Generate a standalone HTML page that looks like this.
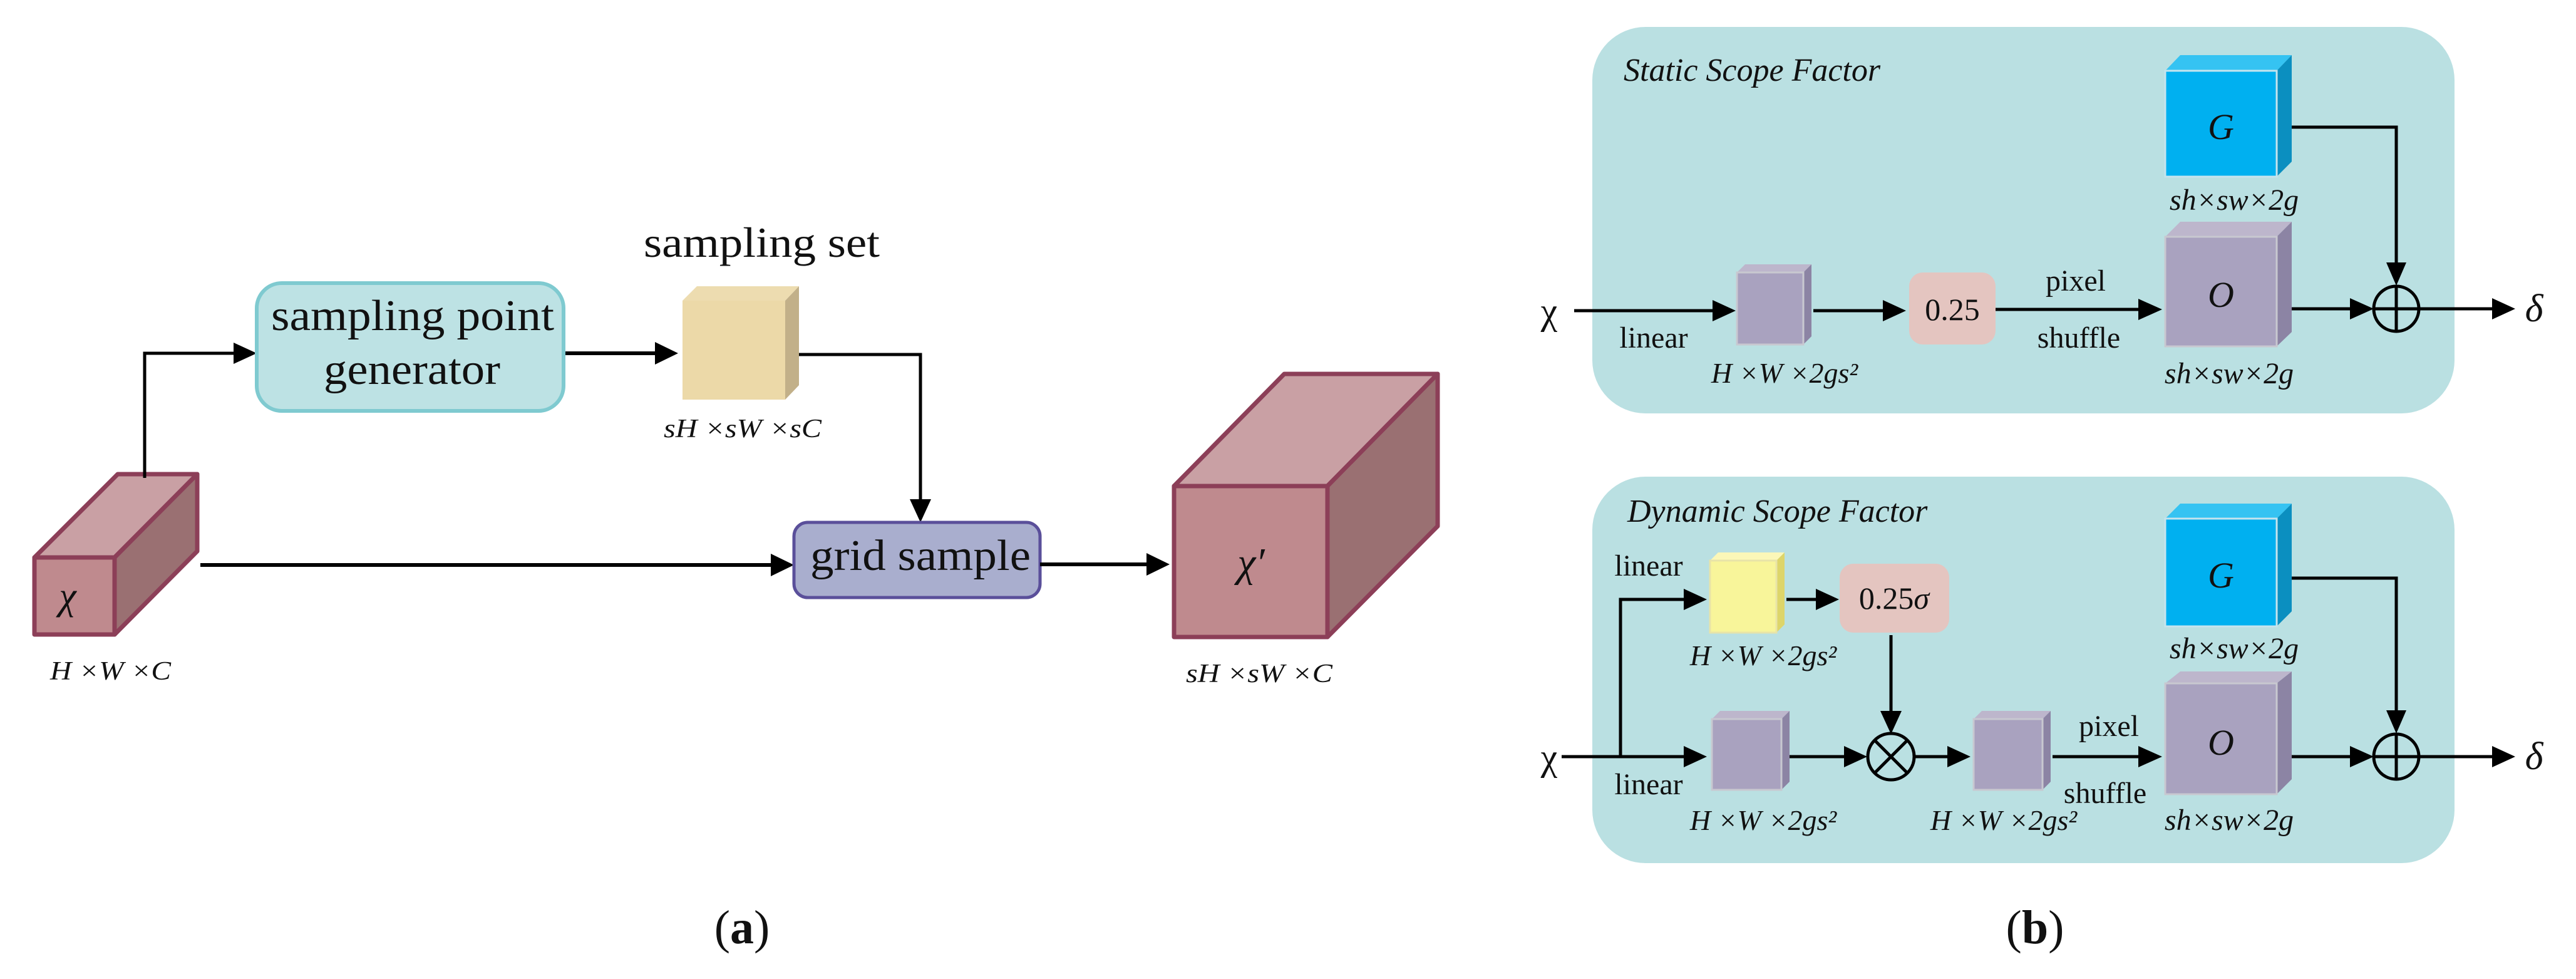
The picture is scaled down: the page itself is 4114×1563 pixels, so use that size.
<!DOCTYPE html>
<html><head><meta charset="utf-8"><style>
html,body{margin:0;padding:0;background:#fff;}
svg{display:block;}
text{font-family:"Liberation Serif",serif;fill:#111;}
.it{font-style:italic;}
</style></head><body>
<svg width="4114" height="1563" viewBox="0 0 4114 1563" xmlns="http://www.w3.org/2000/svg" font-family="Liberation Serif, serif">
<!-- ===== Panel (a) ===== -->
<g stroke="#8c3f58" stroke-width="7" stroke-linejoin="round">
<polygon points="55,890 188,757 315,757 183,890" fill="#c9a0a4"/>
<polygon points="183,890 315,757 315,880 183,1013" fill="#9a7072"/>
<rect x="55" y="890" width="128" height="123" fill="#bf8a8e"/>
</g>
<text x="108" y="972" font-size="62" class="it" text-anchor="middle">χ</text>
<text x="80" y="1085" font-size="42" class="it" textLength="193" lengthAdjust="spacingAndGlyphs">H ×W ×C</text>

<polyline points="231,763 231,564 378,564" fill="none" stroke="#000" stroke-width="5"/>
<polygon points="373,547 410,564 373,581" fill="#000"/>

<rect x="410" y="452" width="490" height="204" rx="40" fill="#bde2e4" stroke="#7fcad0" stroke-width="6"/>
<text x="433" y="527" font-size="70" textLength="452" lengthAdjust="spacingAndGlyphs">sampling point</text>
<text x="517" y="613" font-size="70" textLength="282" lengthAdjust="spacingAndGlyphs">generator</text>

<line x1="903" y1="564" x2="1050" y2="564" stroke="#000" stroke-width="6"/>
<polygon points="1046,546 1083,564 1046,582" fill="#000"/>

<text x="1028" y="410" font-size="68" textLength="377" lengthAdjust="spacingAndGlyphs">sampling set</text>
<polygon points="1090,480 1113,457 1276,457 1254,480" fill="#eddcb0"/>
<polygon points="1254,480 1276,457 1276,615 1254,638" fill="#c2b089"/>
<rect x="1090" y="480" width="164" height="158" fill="#ecd9a8"/>
<text x="1060" y="698" font-size="42" class="it" textLength="252" lengthAdjust="spacingAndGlyphs">sH ×sW ×sC</text>

<polyline points="1276,566 1470,566 1470,800" fill="none" stroke="#000" stroke-width="5"/>
<polygon points="1453,797 1470,834 1487,797" fill="#000"/>

<line x1="320" y1="902" x2="1235" y2="902" stroke="#000" stroke-width="6"/>
<polygon points="1231,884 1268,902 1231,920" fill="#000"/>

<rect x="1268" y="834" width="393" height="120" rx="22" fill="#a9aece" stroke="#5a4f9a" stroke-width="5"/>
<text x="1294" y="910" font-size="70" textLength="352" lengthAdjust="spacingAndGlyphs">grid sample</text>

<line x1="1661" y1="901" x2="1835" y2="901" stroke="#000" stroke-width="6"/>
<polygon points="1831,883 1868,901 1831,919" fill="#000"/>

<g stroke="#8c3f58" stroke-width="7" stroke-linejoin="round">
<polygon points="1875,776 2051,597 2296,597 2120,776" fill="#c9a0a4"/>
<polygon points="2120,776 2296,597 2296,840 2120,1017" fill="#9a7072"/>
<rect x="1875" y="776" width="245" height="241" fill="#bf8a8e"/>
</g>
<text x="1998" y="920" font-size="66" class="it" text-anchor="middle">χ′</text>
<text x="1894" y="1089" font-size="42" class="it" textLength="234" lengthAdjust="spacingAndGlyphs">sH ×sW ×C</text>

<text x="1185" y="1506" font-size="76" text-anchor="middle">(<tspan font-weight="bold">a</tspan>)</text>

<!-- ===== Panel (b) ===== -->
<rect x="2543" y="43" width="1377" height="617" rx="85" fill="#bae0e2"/>
<text x="2593" y="129" font-size="52" class="it">Static Scope Factor</text>

<polygon points="3458,113 3482,88 3660,88 3636,113" fill="#35c3f2"/>
<polygon points="3636,113 3660,88 3660,258 3636,282" fill="#0b8fc0"/>
<rect x="3458" y="113" width="178" height="169" fill="#00b0f0" stroke="#c6e4ee" stroke-width="3"/>
<text x="3547" y="222" font-size="58" class="it" text-anchor="middle">G</text>
<text x="3568" y="335" font-size="48" class="it" text-anchor="middle">sh×sw×2g</text>

<polygon points="3458,378 3482,354 3660,354 3636,378" fill="#bdb6cc"/>
<polygon points="3636,378 3660,354 3660,530 3636,553" fill="#8c84a4"/>
<rect x="3458" y="378" width="178" height="175" fill="#a9a2bf" stroke="#c8c8d0" stroke-width="3"/>
<text x="3547" y="490" font-size="58" class="it" text-anchor="middle">O</text>
<text x="3560" y="612" font-size="48" class="it" text-anchor="middle">sh×sw×2g</text>

<polyline points="3660,203 3827,203 3827,420" fill="none" stroke="#000" stroke-width="5"/>
<polygon points="3811,419 3827,456 3843,419" fill="#000"/>
<circle cx="3827" cy="493" r="36" fill="none" stroke="#000" stroke-width="5"/>
<line x1="3791" y1="493" x2="3863" y2="493" stroke="#000" stroke-width="5"/>
<line x1="3827" y1="457" x2="3827" y2="529" stroke="#000" stroke-width="5"/>
<line x1="3660" y1="493" x2="3756" y2="493" stroke="#000" stroke-width="5"/>
<polygon points="3753,476 3791,493 3753,510" fill="#000"/>
<line x1="3863" y1="493" x2="3985" y2="493" stroke="#000" stroke-width="5"/>
<polygon points="3980,476 4017,493 3980,510" fill="#000"/>
<text x="4047" y="513" font-size="62" class="it" text-anchor="middle">δ</text>

<text x="2474" y="517" font-size="60" text-anchor="middle">χ</text>
<line x1="2514" y1="496" x2="2738" y2="496" stroke="#000" stroke-width="5"/>
<polygon points="2735,479 2772,496 2735,513" fill="#000"/>
<text x="2641" y="555" font-size="48" text-anchor="middle">linear</text>

<polygon points="2774,435 2787,422 2893,422 2880,435" fill="#bdb6cc"/>
<polygon points="2880,435 2893,422 2893,537 2880,550" fill="#8c84a4"/>
<rect x="2774" y="435" width="106" height="115" fill="#a9a2bf" stroke="#c8c8d0" stroke-width="3"/>
<text x="2850" y="611" font-size="46" class="it" text-anchor="middle">H ×W ×2gs²</text>

<line x1="2896" y1="496" x2="3010" y2="496" stroke="#000" stroke-width="5"/>
<polygon points="3007,479 3044,496 3007,513" fill="#000"/>
<rect x="3049" y="435" width="138" height="115" rx="22" fill="#e4c5c0"/>
<text x="3118" y="511" font-size="50" text-anchor="middle">0.25</text>
<line x1="3187" y1="494" x2="3418" y2="494" stroke="#000" stroke-width="5"/>
<polygon points="3415,477 3453,494 3415,511" fill="#000"/>
<text x="3315" y="464" font-size="48" text-anchor="middle">pixel</text>
<text x="3320" y="555" font-size="48" text-anchor="middle">shuffle</text>

<rect x="2543" y="761" width="1377" height="617" rx="85" fill="#bae0e2"/>
<text x="2599" y="833" font-size="52" class="it">Dynamic Scope Factor</text>

<polygon points="3458,828 3482,804 3660,804 3636,828" fill="#35c3f2"/>
<polygon points="3636,828 3660,804 3660,976 3636,1000" fill="#0b8fc0"/>
<rect x="3458" y="828" width="178" height="172" fill="#00b0f0" stroke="#c6e4ee" stroke-width="3"/>
<text x="3547" y="938" font-size="58" class="it" text-anchor="middle">G</text>
<text x="3568" y="1051" font-size="48" class="it" text-anchor="middle">sh×sw×2g</text>

<polygon points="3458,1091 3482,1072 3660,1072 3636,1091" fill="#bdb6cc"/>
<polygon points="3636,1091 3660,1072 3660,1244 3636,1268" fill="#8c84a4"/>
<rect x="3458" y="1091" width="178" height="177" fill="#a9a2bf" stroke="#c8c8d0" stroke-width="3"/>
<text x="3547" y="1205" font-size="58" class="it" text-anchor="middle">O</text>
<text x="3560" y="1325" font-size="48" class="it" text-anchor="middle">sh×sw×2g</text>

<polyline points="3660,923 3827,923 3827,1135" fill="none" stroke="#000" stroke-width="5"/>
<polygon points="3811,1134 3827,1171 3843,1134" fill="#000"/>
<circle cx="3827" cy="1208" r="36" fill="none" stroke="#000" stroke-width="5"/>
<line x1="3791" y1="1208" x2="3863" y2="1208" stroke="#000" stroke-width="5"/>
<line x1="3827" y1="1172" x2="3827" y2="1244" stroke="#000" stroke-width="5"/>
<line x1="3660" y1="1208" x2="3756" y2="1208" stroke="#000" stroke-width="5"/>
<polygon points="3753,1191 3791,1208 3753,1225" fill="#000"/>
<line x1="3863" y1="1208" x2="3985" y2="1208" stroke="#000" stroke-width="5"/>
<polygon points="3980,1191 4017,1208 3980,1225" fill="#000"/>
<text x="4047" y="1228" font-size="62" class="it" text-anchor="middle">δ</text>

<text x="2474" y="1229" font-size="60" text-anchor="middle">χ</text>
<line x1="2494" y1="1208" x2="2692" y2="1208" stroke="#000" stroke-width="5"/>
<polygon points="2689,1191 2726,1208 2689,1225" fill="#000"/>
<polyline points="2588,1208 2588,957 2692,957" fill="none" stroke="#000" stroke-width="5"/>
<polygon points="2689,940 2726,957 2689,974" fill="#000"/>
<text x="2633" y="919" font-size="48" text-anchor="middle">linear</text>
<text x="2633" y="1268" font-size="48" text-anchor="middle">linear</text>

<polygon points="2731,895 2744,882 2850,882 2837,895" fill="#fbf7b8"/>
<polygon points="2837,895 2850,882 2850,997 2837,1010" fill="#ddd56a"/>
<rect x="2731" y="895" width="106" height="115" fill="#f8f59a" stroke="#e8e4a8" stroke-width="3"/>
<text x="2816" y="1062" font-size="46" class="it" text-anchor="middle">H ×W ×2gs²</text>
<line x1="2853" y1="957" x2="2902" y2="957" stroke="#000" stroke-width="5"/>
<polygon points="2900,940 2937,957 2900,974" fill="#000"/>
<rect x="2938" y="900" width="175" height="110" rx="22" fill="#e4c5c0"/>
<text x="3025" y="972" font-size="50" text-anchor="middle">0.25<tspan class="it">σ</tspan></text>
<line x1="3020" y1="1014" x2="3020" y2="1138" stroke="#000" stroke-width="5"/>
<polygon points="3003,1135 3020,1172 3037,1135" fill="#000"/>

<polygon points="2734,1148 2747,1135 2858,1135 2845,1148" fill="#bdb6cc"/>
<polygon points="2845,1148 2858,1135 2858,1248 2845,1261" fill="#8c84a4"/>
<rect x="2734" y="1148" width="111" height="113" fill="#a9a2bf" stroke="#c8c8d0" stroke-width="3"/>
<text x="2816" y="1325" font-size="46" class="it" text-anchor="middle">H ×W ×2gs²</text>
<line x1="2858" y1="1208" x2="2946" y2="1208" stroke="#000" stroke-width="5"/>
<polygon points="2945,1191 2982,1208 2945,1225" fill="#000"/>
<circle cx="3020" cy="1208" r="37" fill="none" stroke="#000" stroke-width="5"/>
<line x1="2995" y1="1183" x2="3045" y2="1233" stroke="#000" stroke-width="5"/>
<line x1="3045" y1="1183" x2="2995" y2="1233" stroke="#000" stroke-width="5"/>
<line x1="3057" y1="1208" x2="3112" y2="1208" stroke="#000" stroke-width="5"/>
<polygon points="3110,1191 3147,1208 3110,1225" fill="#000"/>

<polygon points="3152,1148 3165,1135 3275,1135 3262,1148" fill="#bdb6cc"/>
<polygon points="3262,1148 3275,1135 3275,1248 3262,1261" fill="#8c84a4"/>
<rect x="3152" y="1148" width="110" height="113" fill="#a9a2bf" stroke="#c8c8d0" stroke-width="3"/>
<text x="3200" y="1325" font-size="46" class="it" text-anchor="middle">H ×W ×2gs²</text>
<line x1="3278" y1="1208" x2="3418" y2="1208" stroke="#000" stroke-width="5"/>
<polygon points="3415,1191 3453,1208 3415,1225" fill="#000"/>
<text x="3368" y="1175" font-size="48" text-anchor="middle">pixel</text>
<text x="3362" y="1282" font-size="48" text-anchor="middle">shuffle</text>

<text x="3250" y="1506" font-size="76" text-anchor="middle">(<tspan font-weight="bold">b</tspan>)</text>
</svg>
</body></html>
